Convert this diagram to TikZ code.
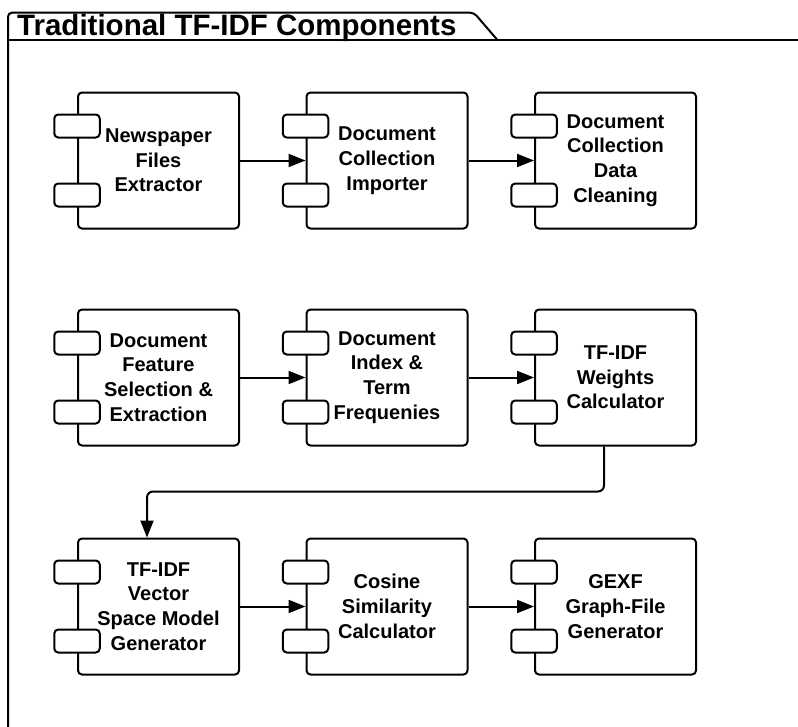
\documentclass[tikz,border=0pt]{standalone}
\usepackage{fontspec}
\setmainfont{Liberation Sans}
\usetikzlibrary{arrows.meta}

\tikzset{
  comp/.style={draw, line width=2pt, rounded corners=4pt, fill=white,
    minimum width=161pt, minimum height=136pt, inner sep=0pt, align=center,
    font=\fontsize{20}{24.7}\selectfont\bfseries},
  port/.style={draw, line width=2pt, rounded corners=4pt, fill=white,
    minimum width=45.5pt, minimum height=23pt, inner sep=0pt},
  flow/.style={line width=2pt, -{Triangle[length=17pt,width=13pt]}},
  frameline/.style={line width=2pt}
}

% component node with its two interface ports on the left edge
\newcommand{\component}[3]{%
  \node[comp] (#1) at (#2) {#3};
  \node[port] (#1p1) at ([yshift=34.5pt]#1.west) {};
  \node[port] (#1p2) at ([yshift=-34.5pt]#1.west) {};
}

\begin{document}
\begin{tikzpicture}[x=1pt, y=-1pt]
  \useasboundingbox (0,0) rectangle (798,726);

  % package frame with its name tab
  \draw[frameline, rounded corners=4pt] (8,730) -- (8,12.7) -- (474,12.7) -- (497,39.5);
  \draw[frameline] (8,39.5) -- (800,39.5);
  \node[anchor=base west, inner sep=0pt] (title) at (17,35)
    {\fontsize{29.5}{30}\selectfont\bfseries Traditional TF-IDF Components};

  % first row
  \component{c1}{158.5,160.5}{Newspaper\\Files\\Extractor}
  \component{c2}{387,160.5}{Document\\Collection\\Importer}
  \component{c3}{615.5,160.5}{Document\\Collection\\Data\\Cleaning}

  % second row
  \component{c4}{158.5,377.5}{Document\\Feature\\Selection \&\\Extraction}
  \component{c5}{387,377.5}{Document\\Index \&\\Term\\Frequenies}
  \component{c6}{615.5,377.5}{TF-IDF\\Weights\\Calculator}

  % third row
  \component{c7}{158.5,606.5}{TF-IDF\\Vector\\Space Model\\Generator}
  \component{c8}{387,606.5}{Cosine\\Similarity\\Calculator}
  \component{c9}{615.5,606.5}{GEXF\\Graph-File\\Generator}

  % data flow
  \draw[flow] (c1.east) -- (c2.west);
  \draw[flow] (c2.east) -- (c3.west);
  \draw[flow] (c4.east) -- (c5.west);
  \draw[flow] (c5.east) -- (c6.west);
  \draw[flow, rounded corners=6pt] ([xshift=-11.5pt]c6.south) -- ++(0,45) -| ([xshift=-11.5pt]c7.north);
  \draw[flow] (c7.east) -- (c8.west);
  \draw[flow] (c8.east) -- (c9.west);
\end{tikzpicture}
\end{document}
